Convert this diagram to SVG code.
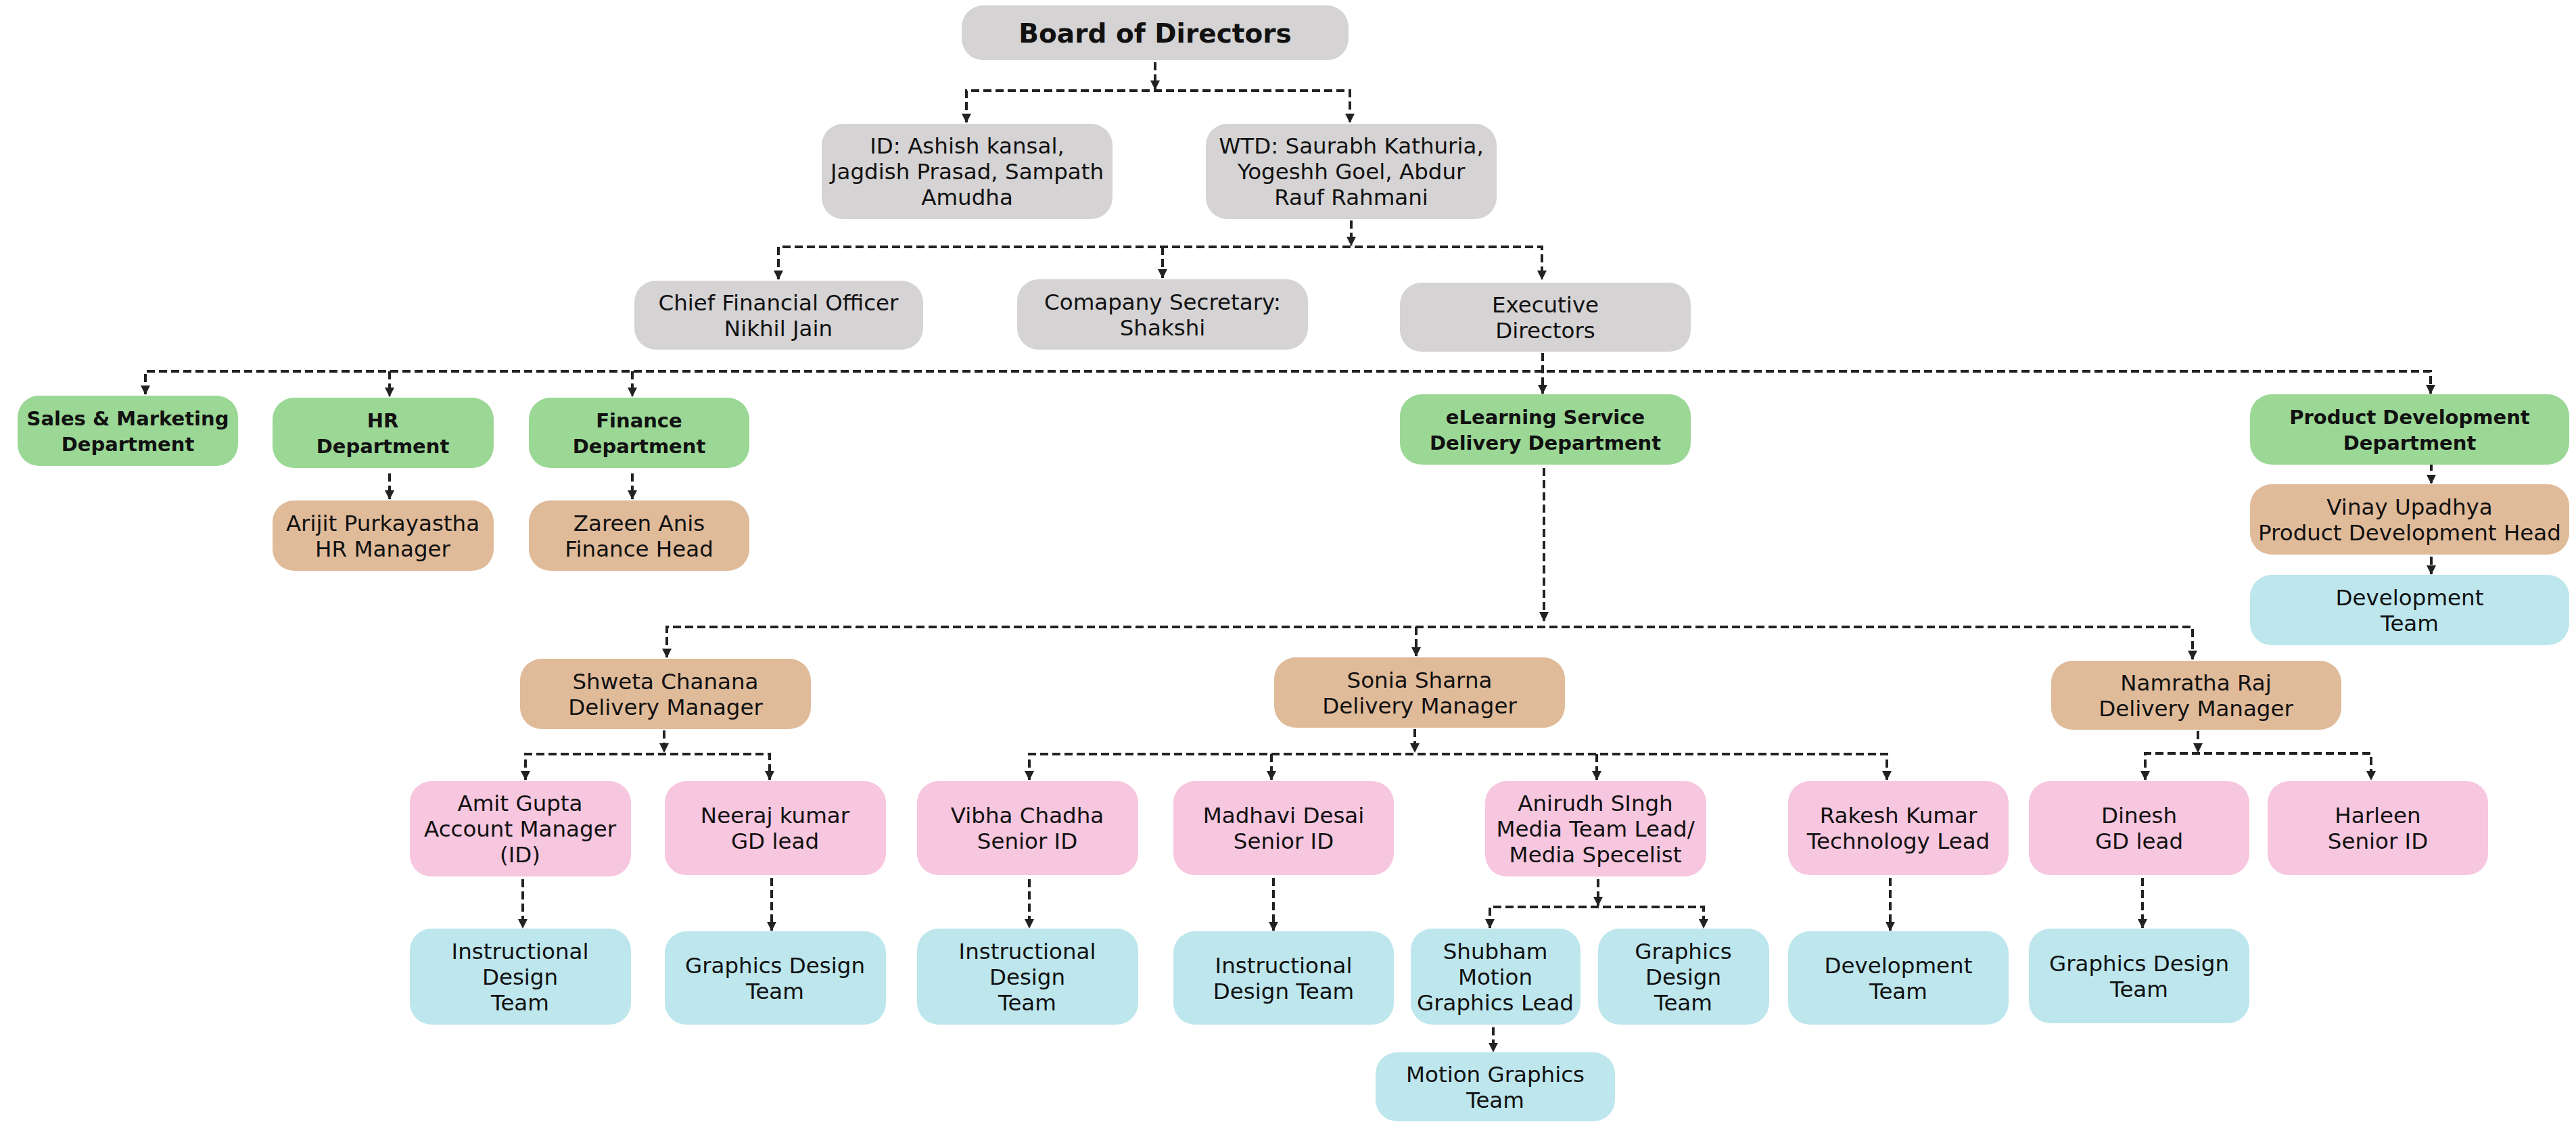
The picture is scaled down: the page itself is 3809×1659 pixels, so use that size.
<svg xmlns="http://www.w3.org/2000/svg" width="3809" height="1659" viewBox="0 0 3809 1659">
<style>
.g{fill:#d5d3d4}.gr{fill:#9bd795}.t{fill:#e0bb9a}.p{fill:#f7c6df}.b{fill:#bde6ed}
text{font-family:"DejaVu Sans","Noto Sans",sans-serif;font-size:32.5px;fill:#111;text-anchor:middle}
.bd{font-weight:bold;font-size:29px}
.c path,.c line{fill:none;stroke:#222;stroke-width:4;stroke-dasharray:12 6}
</style>
<defs>
<marker id="ah" viewBox="0 0 14 14" refX="13" refY="7" markerWidth="14" markerHeight="14" orient="auto-start-reverse" markerUnits="userSpaceOnUse"><path d="M0,0 L14,7 L0,14 z" fill="#222"/></marker>
</defs>
<rect width="3809" height="1659" fill="#fff"/>
<g class="c" id="connectors">
<line x1="1708" y1="92" x2="1708" y2="132" marker-end="url(#ah)"/>
<path d="M1429,181 V134 H1996 V181" marker-start="url(#ah)" marker-end="url(#ah)"/>
<line x1="1998" y1="326" x2="1998" y2="363" marker-end="url(#ah)"/>
<path d="M1151,413 V365 H2280 V413" marker-start="url(#ah)" marker-end="url(#ah)"/>
<line x1="1719" y1="365" x2="1719" y2="411" marker-end="url(#ah)"/>
<path d="M215,583 V549 H3594 V582" marker-start="url(#ah)" marker-end="url(#ah)"/>
<line x1="2281" y1="522" x2="2281" y2="582" marker-end="url(#ah)"/>
<line x1="576" y1="549" x2="576" y2="586" marker-end="url(#ah)"/>
<line x1="935" y1="549" x2="935" y2="586" marker-end="url(#ah)"/>
<line x1="576" y1="700" x2="576" y2="738" marker-end="url(#ah)"/>
<line x1="935" y1="700" x2="935" y2="738" marker-end="url(#ah)"/>
<line x1="3595" y1="684" x2="3595" y2="715" marker-end="url(#ah)"/>
<line x1="3595" y1="823" x2="3595" y2="849" marker-end="url(#ah)"/>
<line x1="2283" y1="692" x2="2283" y2="918" marker-end="url(#ah)"/>
<path d="M986,972 V927 H3242 V975" marker-start="url(#ah)" marker-end="url(#ah)"/>
<line x1="2094" y1="927" x2="2094" y2="970" marker-end="url(#ah)"/>
<line x1="982" y1="1080" x2="982" y2="1112" marker-end="url(#ah)"/>
<path d="M777,1153 V1115 H1138 V1153" marker-start="url(#ah)" marker-end="url(#ah)"/>
<line x1="2092" y1="1078" x2="2092" y2="1112" marker-end="url(#ah)"/>
<path d="M1522,1153 V1115 H2790 V1153" marker-start="url(#ah)" marker-end="url(#ah)"/>
<line x1="1880" y1="1115" x2="1880" y2="1153" marker-end="url(#ah)"/>
<line x1="2361" y1="1115" x2="2361" y2="1153" marker-end="url(#ah)"/>
<line x1="3250" y1="1081" x2="3250" y2="1112" marker-end="url(#ah)"/>
<path d="M3172,1153 V1114 H3506 V1153" marker-start="url(#ah)" marker-end="url(#ah)"/>
<line x1="773" y1="1300" x2="773" y2="1372" marker-end="url(#ah)"/>
<line x1="1141" y1="1298" x2="1141" y2="1376" marker-end="url(#ah)"/>
<line x1="1522" y1="1300" x2="1522" y2="1372" marker-end="url(#ah)"/>
<line x1="1883" y1="1298" x2="1883" y2="1376" marker-end="url(#ah)"/>
<line x1="2795" y1="1298" x2="2795" y2="1376" marker-end="url(#ah)"/>
<line x1="3168" y1="1298" x2="3168" y2="1372" marker-end="url(#ah)"/>
<line x1="2363" y1="1300" x2="2363" y2="1339" marker-end="url(#ah)"/>
<path d="M2203,1372 V1341 H2519 V1372" marker-start="url(#ah)" marker-end="url(#ah)"/>
<line x1="2208" y1="1519" x2="2208" y2="1555" marker-end="url(#ah)"/>
</g>
<g id="board"><rect class="g" x="1422" y="8" width="572" height="81" rx="32"/><text class="bd" x="1708" y="63" style="font-size:39px">Board of Directors</text></g>
<g id="id-directors"><rect class="g" x="1215" y="183" width="430" height="141" rx="32"/><text x="1430" y="227">ID: Ashish kansal,</text><text x="1430" y="265">Jagdish Prasad, Sampath</text><text x="1430" y="303">Amudha</text></g>
<g id="wtd-directors"><rect class="g" x="1783" y="183" width="430" height="141" rx="32"/><text x="1998" y="227">WTD: Saurabh Kathuria,</text><text x="1998" y="265">Yogeshh Goel, Abdur</text><text x="1998" y="303">Rauf Rahmani</text></g>
<g id="cfo"><rect class="g" x="938" y="415" width="427" height="102" rx="32"/><text x="1151" y="459">Chief Financial Officer</text><text x="1151" y="497">Nikhil Jain</text></g>
<g id="secretary"><rect class="g" x="1504" y="413" width="430" height="104" rx="32"/><text x="1719" y="458">Comapany Secretary:</text><text x="1719" y="496">Shakshi</text></g>
<g id="exec-directors"><rect class="g" x="2070" y="418" width="430" height="102" rx="32"/><text x="2285" y="462">Executive</text><text x="2285" y="500">Directors</text></g>
<g id="sales"><rect class="gr" x="26" y="585" width="326" height="104" rx="32"/><text class="bd" x="189" y="629">Sales &amp; Marketing</text><text class="bd" x="189" y="667">Department</text></g>
<g id="hr"><rect class="gr" x="403" y="588" width="327" height="104" rx="32"/><text class="bd" x="566" y="632">HR</text><text class="bd" x="566" y="670">Department</text></g>
<g id="finance"><rect class="gr" x="782" y="588" width="326" height="104" rx="32"/><text class="bd" x="945" y="632">Finance</text><text class="bd" x="945" y="670">Department</text></g>
<g id="elearning"><rect class="gr" x="2070" y="583" width="430" height="104" rx="32"/><text class="bd" x="2285" y="627">eLearning Service</text><text class="bd" x="2285" y="665">Delivery Department</text></g>
<g id="product-dev"><rect class="gr" x="3327" y="583" width="472" height="104" rx="32"/><text class="bd" x="3563" y="627">Product Development</text><text class="bd" x="3563" y="665">Department</text></g>
<g id="arijit"><rect class="t" x="403" y="740" width="327" height="104" rx="32"/><text x="566" y="785">Arijit Purkayastha</text><text x="566" y="823">HR Manager</text></g>
<g id="zareen"><rect class="t" x="782" y="740" width="326" height="104" rx="32"/><text x="945" y="785">Zareen Anis</text><text x="945" y="823">Finance Head</text></g>
<g id="vinay"><rect class="t" x="3327" y="716" width="472" height="104" rx="32"/><text x="3563" y="761">Vinay Upadhya</text><text x="3563" y="799">Product Development Head</text></g>
<g id="pd-team"><rect class="b" x="3327" y="850" width="472" height="104" rx="32"/><text x="3563" y="895">Development</text><text x="3563" y="933">Team</text></g>
<g id="shweta"><rect class="t" x="769" y="974" width="430" height="104" rx="32"/><text x="984" y="1019">Shweta Chanana</text><text x="984" y="1057">Delivery Manager</text></g>
<g id="sonia"><rect class="t" x="1884" y="972" width="430" height="104" rx="32"/><text x="2099" y="1017">Sonia Sharna</text><text x="2099" y="1055">Delivery Manager</text></g>
<g id="namratha"><rect class="t" x="3033" y="977" width="429" height="102" rx="32"/><text x="3247" y="1021">Namratha Raj</text><text x="3247" y="1059">Delivery Manager</text></g>
<g id="amit"><rect class="p" x="606" y="1155" width="327" height="141" rx="32"/><text x="769" y="1199">Amit Gupta</text><text x="769" y="1237">Account Manager</text><text x="769" y="1275">(ID)</text></g>
<g id="neeraj"><rect class="p" x="983" y="1155" width="327" height="139" rx="32"/><text x="1146" y="1217">Neeraj kumar</text><text x="1146" y="1255">GD lead</text></g>
<g id="vibha"><rect class="p" x="1356" y="1155" width="327" height="139" rx="32"/><text x="1519" y="1217">Vibha Chadha</text><text x="1519" y="1255">Senior ID</text></g>
<g id="madhavi"><rect class="p" x="1735" y="1155" width="326" height="139" rx="32"/><text x="1898" y="1217">Madhavi Desai</text><text x="1898" y="1255">Senior ID</text></g>
<g id="anirudh"><rect class="p" x="2196" y="1155" width="327" height="141" rx="32"/><text x="2359" y="1199">Anirudh SIngh</text><text x="2359" y="1237">Media Team Lead/</text><text x="2359" y="1275">Media Specelist</text></g>
<g id="rakesh"><rect class="p" x="2644" y="1155" width="326" height="139" rx="32"/><text x="2807" y="1217">Rakesh Kumar</text><text x="2807" y="1255">Technology Lead</text></g>
<g id="dinesh"><rect class="p" x="3000" y="1155" width="326" height="139" rx="32"/><text x="3163" y="1217">Dinesh</text><text x="3163" y="1255">GD lead</text></g>
<g id="harleen"><rect class="p" x="3353" y="1155" width="326" height="139" rx="32"/><text x="3516" y="1217">Harleen</text><text x="3516" y="1255">Senior ID</text></g>
<g id="idt-1"><rect class="b" x="606" y="1373" width="327" height="142" rx="32"/><text x="769" y="1418">Instructional</text><text x="769" y="1456">Design</text><text x="769" y="1494">Team</text></g>
<g id="gdt-1"><rect class="b" x="983" y="1377" width="327" height="138" rx="32"/><text x="1146" y="1439">Graphics Design</text><text x="1146" y="1477">Team</text></g>
<g id="idt-2"><rect class="b" x="1356" y="1373" width="327" height="142" rx="32"/><text x="1519" y="1418">Instructional</text><text x="1519" y="1456">Design</text><text x="1519" y="1494">Team</text></g>
<g id="idt-3"><rect class="b" x="1735" y="1377" width="326" height="138" rx="32"/><text x="1898" y="1439">Instructional</text><text x="1898" y="1477">Design Team</text></g>
<g id="shubham"><rect class="b" x="2086" y="1373" width="251" height="142" rx="32"/><text x="2211" y="1418">Shubham</text><text x="2211" y="1456">Motion</text><text x="2211" y="1494">Graphics Lead</text></g>
<g id="gdt-2"><rect class="b" x="2363" y="1373" width="253" height="142" rx="32"/><text x="2489" y="1418">Graphics</text><text x="2489" y="1456">Design</text><text x="2489" y="1494">Team</text></g>
<g id="dev-team"><rect class="b" x="2644" y="1377" width="326" height="138" rx="32"/><text x="2807" y="1439">Development</text><text x="2807" y="1477">Team</text></g>
<g id="gdt-3"><rect class="b" x="3000" y="1373" width="326" height="140" rx="32"/><text x="3163" y="1436">Graphics Design</text><text x="3163" y="1474">Team</text></g>
<g id="mgt"><rect class="b" x="2034" y="1556" width="354" height="102" rx="32"/><text x="2211" y="1600">Motion Graphics</text><text x="2211" y="1638">Team</text></g>
</svg>
